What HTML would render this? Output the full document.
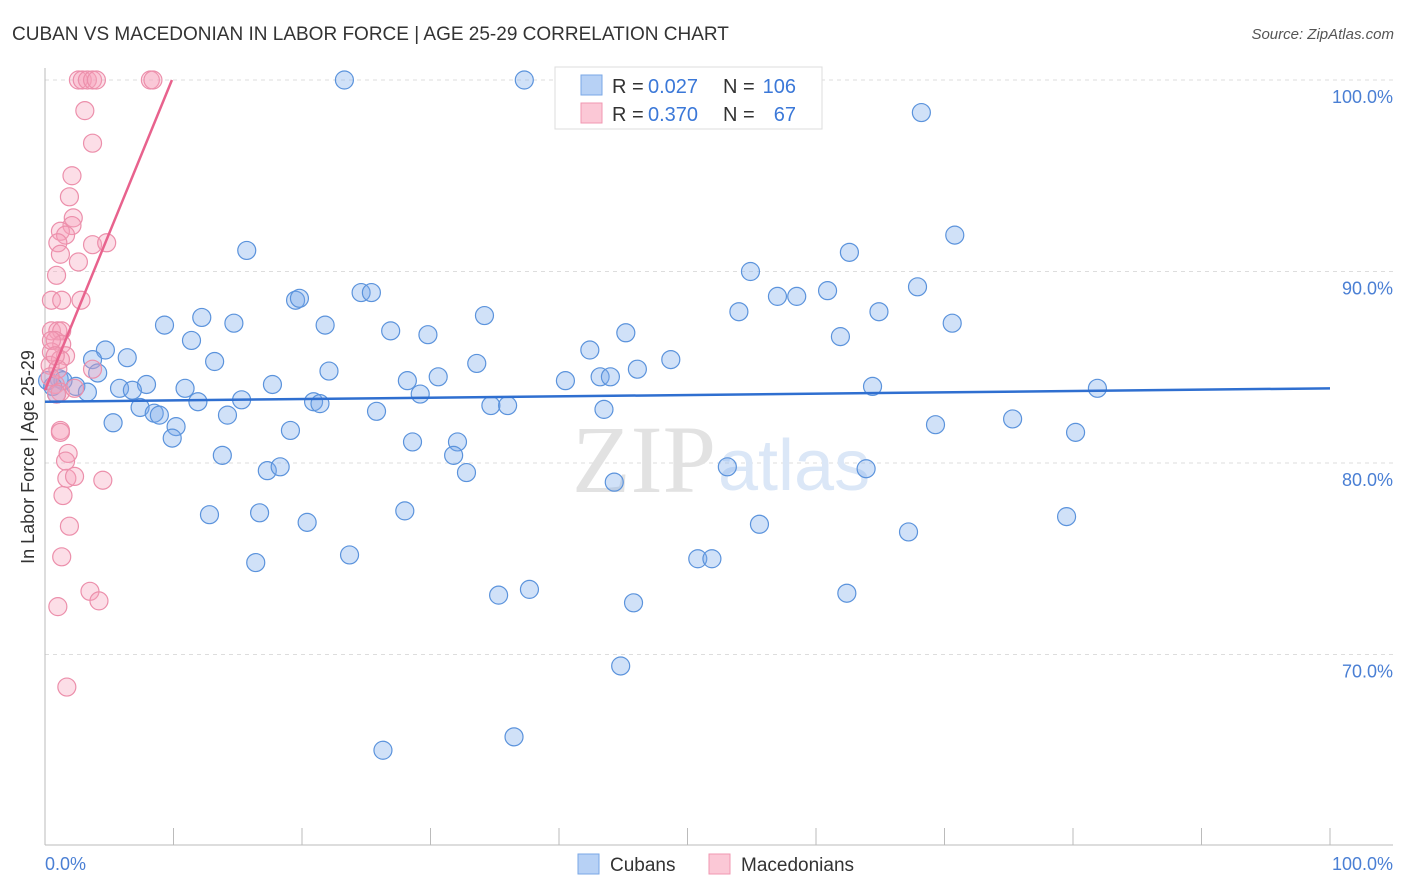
<!DOCTYPE html>
<html><head><meta charset="utf-8"><style>
body{margin:0;background:#fff;font-family:"Liberation Sans",sans-serif;}
#wrap{position:relative;width:1406px;height:892px;overflow:hidden;}
</style></head><body>
<div id="wrap">
<svg id="svg" width="1406" height="892"></svg>
</div>
<script>
const xTicks=[0,10,20,30,40,50,60,70,80,90,100];
const yTicks=[70,80,90,100];
const yTickLabels=["70.0%","80.0%","90.0%","100.0%"];
const cubanX=[23.3,37.3,68.2,15.7,62.6,70.8,54.9,19.5,19.8,24.6,25.4,57.0,58.5,60.9,67.9,12.2,14.7,9.3,21.8,26.9,29.8,34.2,54.0,64.9,70.6,45.2,61.9,11.4,4.7,3.7,6.4,13.2,33.6,42.4,48.7,4.1,22.1,30.6,43.2,44.0,46.1,7.9,5.8,6.8,10.9,17.7,28.2,40.5,64.4,81.9,1.1,2.4,3.3,0.9,15.3,11.9,20.9,21.4,29.2,34.7,36.0,7.4,8.5,8.9,14.2,25.8,43.5,5.3,10.2,19.1,9.9,28.6,32.1,69.3,75.3,80.2,13.8,31.8,17.3,18.3,32.8,53.1,63.9,44.3,12.8,16.7,28.0,20.4,55.6,67.2,79.5,23.7,16.4,50.8,51.9,35.3,37.7,45.8,62.4,44.8,26.3,36.5,0.2,1.4,0.6];
const cubanY=[100,100,98.3,91.1,91.0,91.9,90.0,88.5,88.6,88.9,88.9,88.7,88.7,89.0,89.2,87.6,87.3,87.2,87.2,86.9,86.7,87.7,87.9,87.9,87.3,86.8,86.6,86.4,85.9,85.4,85.5,85.3,85.2,85.9,85.4,84.7,84.8,84.5,84.5,84.5,84.9,84.1,83.9,83.8,83.9,84.1,84.3,84.3,84.0,83.9,84.4,84.0,83.7,83.6,83.3,83.2,83.2,83.1,83.6,83.0,83.0,82.9,82.6,82.5,82.5,82.7,82.8,82.1,81.9,81.7,81.3,81.1,81.1,82.0,82.3,81.6,80.4,80.4,79.6,79.8,79.5,79.8,79.7,79.0,77.3,77.4,77.5,76.9,76.8,76.4,77.2,75.2,74.8,75.0,75.0,73.1,73.4,72.7,73.2,69.4,65.0,65.7,84.3,84.3,84.0];
const macX=[2.6,2.9,3.3,3.7,4.0,8.2,8.4,3.1,3.7,2.1,1.9,2.2,2.1,1.2,1.6,1.0,1.2,3.7,4.8,2.6,0.9,0.5,1.3,2.8,0.5,1.0,1.3,0.8,1.3,0.5,1.6,1.2,0.4,1.0,3.7,0.8,1.2,2.3,0.9,1.2,1.2,1.8,1.6,1.7,2.3,4.5,1.4,1.9,1.3,3.5,4.2,1.0,1.7,0.5,0.8,0.4];
const macY=[100,100,100,100,100,100,100,98.4,96.7,95.0,93.9,92.8,92.4,92.1,91.9,91.5,90.9,91.4,91.5,90.5,89.8,88.5,88.5,88.5,86.9,86.9,86.9,86.4,86.2,85.8,85.6,85.4,85.1,84.9,84.9,84.1,83.7,83.9,83.6,81.7,81.6,80.5,80.1,79.2,79.3,79.1,78.3,76.7,75.1,73.3,72.8,72.5,68.3,86.4,85.6,84.5];
const cubanTrend=[83.2,83.9];
const macTrendIntercept=83.8, macTrendSlope=1.64;

const NS="http://www.w3.org/2000/svg";
const svg=document.getElementById('svg');
const X0=45,X1=1330,Y100=80,PPY=19.15;
const sx=v=>X0+(X1-X0)*v/100;
const sy=v=>Y100+(100-v)*PPY;
function mk(tag,attrs,parent){const e=document.createElementNS(NS,tag);for(const k in attrs)e.setAttribute(k,attrs[k]);(parent||svg).appendChild(e);return e;}
function txt(x,y,s,attrs){const t=mk('text',Object.assign({x:x,y:y},attrs));t.textContent=s;return t;}

let t=txt(12,40,"CUBAN VS MACEDONIAN IN LABOR FORCE | AGE 25-29 CORRELATION CHART",{'font-size':19,fill:'#333'});


t=txt(1394,39,"Source: ZipAtlas.com",{'font-size':15,fill:'#555','font-style':'italic','text-anchor':'end'});



yTicks.forEach((v,i)=>{
 const g=mk('line',{x1:X0,x2:1393,y1:sy(v),y2:sy(v),stroke:'#ddd','stroke-dasharray':'4,4'});
 
 
 const l=txt(1393,sy(v)+23,yTickLabels[i],{'font-size':18,fill:'#4a7fd4','text-anchor':'end'});
 
 
});
let a=mk('line',{x1:X0,x2:X0,y1:68,y2:845,stroke:'#bbb'});


a=mk('line',{x1:X0,x2:1393,y1:845,y2:845,stroke:'#bbb'});


xTicks.forEach(v=>{
 const k=mk('line',{x1:sx(v),x2:sx(v),y1:828,y2:845,stroke:'#bbb'});
 
 
});
t=txt(45,870,"0.0%",{'font-size':18,fill:'#4a7fd4'});


t=txt(1393,870,"100.0%",{'font-size':18,fill:'#4a7fd4','text-anchor':'end'});


t=txt(34,457,"In Labor Force | Age 25-29",{'font-size':18,fill:'#333','text-anchor':'middle',transform:'rotate(-90 34 457)'});



t=txt(716,492,"ZIP",{'font-size':96,fill:'#e2e2e2','font-family':'Liberation Serif,serif','text-anchor':'end'});


t=txt(718,490,"atlas",{'font-size':72,fill:'#dbe7f7'});



cubanX.forEach((x,i)=>{
 const c=mk('circle',{cx:sx(x),cy:sy(cubanY[i]),r:9,fill:'rgba(120,170,235,0.35)',stroke:'#5b93dc','stroke-width':1.2});
 
 
});
macX.forEach((x,i)=>{
 const c=mk('circle',{cx:sx(x),cy:sy(macY[i]),r:9,fill:'rgba(245,160,185,0.35)',stroke:'#ec8fab','stroke-width':1.2});
 
 
});
let tr=mk('line',{x1:sx(0),y1:sy(cubanTrend[0]),x2:sx(100),y2:sy(cubanTrend[1]),stroke:'#2f6fd0','stroke-width':2.5});


const mxEnd=(100-macTrendIntercept)/macTrendSlope;
tr=mk('line',{x1:sx(0),y1:sy(macTrendIntercept),x2:sx(mxEnd),y2:sy(100),stroke:'#e8628d','stroke-width':2.5});



const lg=mk('g',{});


mk('rect',{x:555,y:67,width:267,height:62,fill:'#fff',stroke:'#ddd'},lg);
mk('rect',{x:581,y:75,width:21,height:20,fill:'#b7d1f5',stroke:'#7aa7e6'},lg);
mk('rect',{x:581,y:103,width:21,height:20,fill:'#fbc8d6',stroke:'#f097b1'},lg);
[[93,"0.027","106"],[121,"0.370","67"]].forEach(r=>{
 let e=txt(612,r[0],"R = ",{'font-size':20,fill:'#333'});lg.appendChild(e);
 e=txt(648,r[0],r[1],{'font-size':20,fill:'#3b78d8'});lg.appendChild(e);
 e=txt(723,r[0],"N = ",{'font-size':20,fill:'#333'});lg.appendChild(e);
 e=txt(796,r[0],r[2],{'font-size':20,fill:'#3b78d8','text-anchor':'end'});lg.appendChild(e);
});
const bl=mk('g',{});


mk('rect',{x:578,y:854,width:21,height:20,fill:'#b7d1f5',stroke:'#7aa7e6'},bl);
bl.appendChild(txt(610,871,"Cubans",{'font-size':19,fill:'#333'}));
mk('rect',{x:709,y:854,width:21,height:20,fill:'#fbc8d6',stroke:'#f097b1'},bl);
bl.appendChild(txt(741,871,"Macedonians",{'font-size':19,fill:'#333'}));
</script>
</body></html>
